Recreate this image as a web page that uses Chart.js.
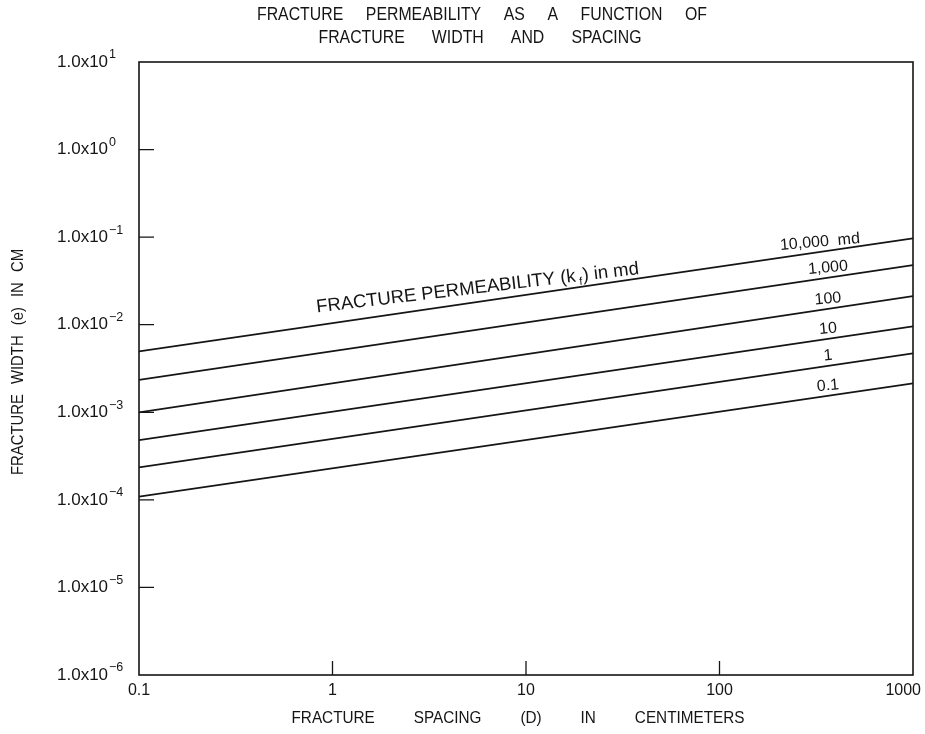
<!DOCTYPE html>
<html>
<head>
<meta charset="utf-8">
<script src="https://cdn.jsdelivr.net/npm/chart.js@4.4.0/dist/chart.umd.min.js"></script>
<style>
  html, body { margin: 0; padding: 0; background: #fff; }
</style>
</head>
<body>
<canvas id="fracChart" width="925" height="734"></canvas>
<script>
// fracture spacing D (cm) at the two ends of every line
const spacingCm = [0.1, 1000];
// fracture width e (cm) read at D = 0.1 and D = 1000
const width10000 = [4.95e-3, 9.66e-2];
const width1000 = [2.35e-3, 4.79e-2];
const width100 = [1.0e-3, 2.12e-2];
const width10 = [4.8e-4, 9.6e-3];
const width1 = [2.35e-4, 4.72e-3];
const width01 = [1.09e-4, 2.14e-3];
const permLabels = ['10,000  md', '1,000', '100', '10', '1', '0.1'];

const xTicks = [0.1, 1, 10, 100, 1000];
const xTickLabels = ['0.1', '1', '10', '100', '1000'];
const yTicks = [1e1, 1e0, 1e-1, 1e-2, 1e-3, 1e-4, 1e-5, 1e-6];
const yTickExp = ['1', '0', '\u22121', '\u22122', '\u22123', '\u22124', '\u22125', '\u22126'];

const INK = '#151515';
const FONT = "'Liberation Sans', Arial, sans-serif";

const widths = [width10000, width1000, width100, width10, width1, width01];

// condensed words spread to fill a given width, centred on cx
function spreadText(ctx, text, cx, y, total, sx) {
  const words = text.split(' ');
  const ws = words.map(w => ctx.measureText(w).width * sx);
  const sum = ws.reduce((s, w) => s + w, 0);
  const gap = words.length > 1 ? (total - sum) / (words.length - 1) : 0;
  let px = cx - total / 2;
  ctx.textAlign = 'left';
  words.forEach((w, i) => {
    ctx.save();
    ctx.translate(px, y);
    ctx.scale(sx, 1);
    ctx.fillText(w, 0, 0);
    ctx.restore();
    px += ws[i] + gap;
  });
}

const figurePlugin = {
  id: 'figure',
  afterDraw(chart) {
    const { ctx, chartArea: a, scales: { x, y } } = chart;
    ctx.save();
    ctx.strokeStyle = INK;
    ctx.fillStyle = INK;

    // frame
    ctx.lineWidth = 1.6;
    ctx.strokeRect(a.left, a.top, a.right - a.left, a.bottom - a.top);

    // inward tick marks
    ctx.lineWidth = 1.3;
    ctx.beginPath();
    y.ticks.forEach(t => {
      const py = y.getPixelForValue(t.value);
      if (py > a.top + 2 && py < a.bottom - 2) {
        ctx.moveTo(a.left, py);
        ctx.lineTo(a.left + 15, py);
      }
    });
    x.ticks.forEach(t => {
      const px = x.getPixelForValue(t.value);
      if (px > a.left + 2 && px < a.right - 2) {
        ctx.moveTo(px, a.bottom);
        ctx.lineTo(px, a.bottom - 14);
      }
    });
    ctx.stroke();

    // y tick labels 1.0x10^n
    ctx.textBaseline = 'middle';
    ctx.textAlign = 'left';
    y.ticks.forEach((t, i) => {
      const py = y.getPixelForValue(t.value);
      ctx.font = '17px ' + FONT;
      ctx.fillText('1.0x10', 57, py);
      const w = ctx.measureText('1.0x10').width;
      ctx.font = '12.5px ' + FONT;
      ctx.fillText(yTickExp[i], 57 + w + 1, py - 7);
    });

    // x tick labels
    ctx.font = '16px ' + FONT;
    ctx.textAlign = 'center';
    x.ticks.forEach((t, i) => {
      const lbl = xTickLabels[i];
      const hw = ctx.measureText(lbl).width / 2;
      let px = x.getPixelForValue(t.value);
      px = Math.min(px, chart.width - 4 - hw);
      ctx.fillText(lbl, px, 691);
    });

    // titles (condensed capitals)
    ctx.font = '18px ' + FONT;
    ctx.textBaseline = 'middle';
    spreadText(ctx, 'FRACTURE PERMEABILITY AS A FUNCTION OF', 482, 15, 450, 0.88);
    spreadText(ctx, 'FRACTURE WIDTH AND SPACING', 480, 38, 323, 0.88);
    ctx.font = '17px ' + FONT;
    spreadText(ctx, 'FRACTURE SPACING (D) IN CENTIMETERS', 518, 718, 453, 0.9);
    ctx.save();
    ctx.translate(18, 362);
    ctx.rotate(-Math.PI / 2);
    ctx.font = '16.5px ' + FONT;
    spreadText(ctx, 'FRACTURE WIDTH (e) IN CM', 0, 0, 226, 0.9);
    ctx.restore();

    // line labels near the right end
    chart.data.datasets.forEach((ds, i) => {
      const meta = chart.getDatasetMeta(i);
      const p0 = meta.data[0], p1 = meta.data[meta.data.length - 1];
      const ang = Math.atan2(p1.y - p0.y, p1.x - p0.x);
      const lx = i === 0 ? 820 : 828;
      const ly = p0.y + (lx - p0.x) * (p1.y - p0.y) / (p1.x - p0.x);
      ctx.save();
      ctx.translate(lx, ly - 10);
      ctx.rotate(ang * 0.6);
      ctx.font = '16px ' + FONT;
      ctx.textAlign = 'center';
      ctx.textBaseline = 'middle';
      ctx.fillText(permLabels[i], 0, 0);
      ctx.restore();
    });

    // running label along the top line
    const m = chart.getDatasetMeta(0);
    const q0 = m.data[0], q1 = m.data[1];
    const sx = 317;
    const sy = q0.y + (sx - q0.x) * (q1.y - q0.y) / (q1.x - q0.x) - 13;
    ctx.save();
    ctx.translate(sx, sy);
    ctx.rotate(Math.atan2(q1.y - q0.y, q1.x - q0.x) * 0.82);
    ctx.textAlign = 'left';
    ctx.textBaseline = 'alphabetic';
    ctx.font = '18.5px ' + FONT;
    let cx = 0;
    const part1 = 'FRACTURE PERMEABILITY (k';
    ctx.fillText(part1, cx, 0);
    cx += ctx.measureText(part1).width + 3;
    ctx.font = '11px ' + FONT;
    ctx.fillText('f', cx, 4);
    cx += ctx.measureText('f').width + 1;
    ctx.font = '18.5px ' + FONT;
    ctx.fillText(') in md', cx, 0);
    ctx.restore();

    ctx.restore();
  }
};

new Chart(document.getElementById('fracChart').getContext('2d'), {
  type: 'line',
  data: {
    datasets: widths.map((w, i) => ({
      label: permLabels[i],
      data: spacingCm.map((d, j) => ({ x: d, y: w[j] })),
      borderColor: INK,
      borderWidth: 1.7,
      pointRadius: 0,
      tension: 0,
      fill: false
    }))
  },
  options: {
    responsive: false,
    animation: false,
    layout: { padding: { left: 139, top: 62, right: 12, bottom: 59 } },
    plugins: {
      legend: { display: false },
      tooltip: { enabled: false },
      title: { display: false }
    },
    scales: {
      x: {
        type: 'logarithmic',
        min: 0.1,
        max: 1000,
        afterBuildTicks: s => { s.ticks = xTicks.map(v => ({ value: v })); },
        afterFit: s => { s.height = 0; s.paddingLeft = 0; s.paddingRight = 0; },
        ticks: { display: false },
        grid: { display: false, drawTicks: false },
        border: { display: false }
      },
      y: {
        type: 'logarithmic',
        min: 1e-6,
        max: 10,
        afterBuildTicks: s => { s.ticks = yTicks.map(v => ({ value: v })); },
        afterFit: s => { s.width = 0; s.paddingTop = 0; s.paddingBottom = 0; },
        ticks: { display: false },
        grid: { display: false, drawTicks: false },
        border: { display: false }
      }
    }
  },
  plugins: [figurePlugin]
});
</script>
</body>
</html>
